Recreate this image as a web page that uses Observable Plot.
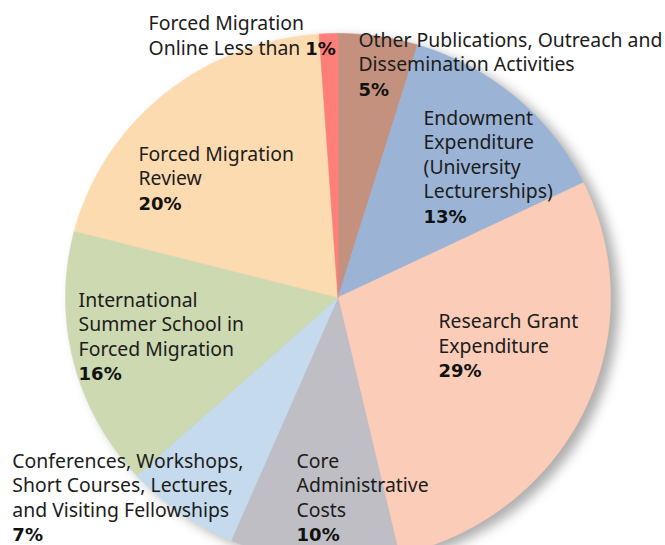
<!DOCTYPE html>
<html><head><meta charset="utf-8">
<script src="https://cdn.jsdelivr.net/npm/d3@7"></script>
<script src="https://cdn.jsdelivr.net/npm/@observablehq/plot@0.6"></script>
<style>body{margin:0;background:#fff}</style>
</head><body><div id="chart"></div>
<script>
// ---- data (clockwise from 12 o'clock) ----
const categories = [
  "Other Publications, Outreach and\nDissemination Activities",
  "Endowment\nExpenditure\n(University\nLecturerships)",
  "Research Grant\nExpenditure",
  "Core\nAdministrative\nCosts",
  "Conferences, Workshops,\nShort Courses, Lectures,\nand Visiting Fellowships",
  "International\nSummer School in\nForced Migration",
  "Forced Migration\nReview",
  "Forced Migration\nOnline Less than"
];
const values = [4.7, 13.1, 28.5, 10.0, 6.8, 15.8, 19.8, 1.1];
const pctLabels = ["5%", "13%", "29%", "10%", "7%", "16%", "20%", "1%"];

// ---- styles / layout ----
const colors = ["#c4917f", "#9bb4d6", "#fbcdb9", "#bfbec4", "#c5dbed", "#cdd9b1", "#fddbb0", "#fe7f79"];
// label anchor (left edge, baseline of the last line) in pie units
const labelX = [0.075, 0.314, 0.369, -0.152, -1.195, -0.952, -0.732, -0.695];
const labelY = [0.765, 0.284, -0.303, -0.924, -0.924, -0.314, 0.333, 0.826];

const RX = 272.5, CX = 337.5, RY = 264, CY = 297;
const fs = 19.4, lhPx = 24.5;
const font = '"Noto Sans"';

// slices
const arcs = d3.pie().sort(null).value(d => d)(values);
const pts = [];
arcs.forEach((a, i) => {
  const k = categories[i];
  pts.push({k, x: 0, y: 0});
  const n = Math.max(2, Math.ceil((a.endAngle - a.startAngle) / (Math.PI / 360)));
  for (let j = 0; j <= n; j++) {
    const t = a.startAngle + (a.endAngle - a.startAngle) * j / n;
    pts.push({k, x: Math.sin(t), y: Math.cos(t)});
  }
  pts.push({k, x: 0, y: 0});
});

// percentage positions; the last one sits inline after its text
const ctx = document.createElement("canvas").getContext("2d");
ctx.font = `${fs}px ${font}`;
const inlineW = ctx.measureText("Online Less than ").width;
const idx = d3.range(categories.length);
const pctX = idx.map(i => i === 7 ? labelX[i] + inlineW / RX : labelX[i]);
const pctY = idx.map(i => i === 7 ? labelY[i] + lhPx / RY : labelY[i]);

const plot = Plot.plot({
  width: 665, height: 545, margin: 0,
  style: {background: "#fff", overflow: "visible"},
  x: {domain: [-1, 1], range: [CX - RX, CX + RX], axis: null},
  y: {domain: [-1, 1], range: [CY + RY, CY - RY], axis: null},
  color: {domain: categories, range: colors},
  marks: [
    Plot.line(pts, {x: "x", y: "y", z: "k", fill: "k", stroke: "k", strokeWidth: 0.6, curve: "linear"}),
    Plot.text(idx, {
      x: i => labelX[i], y: i => labelY[i], text: i => categories[i],
      textAnchor: "start", lineAnchor: "bottom", dy: -lhPx,
      lineHeight: lhPx / fs, fontSize: fs, fontFamily: "Noto Sans", fill: "#1c1c1c"
    }),
    Plot.text(idx, {
      x: i => pctX[i], y: i => pctY[i], text: i => pctLabels[i],
      textAnchor: "start", lineAnchor: "bottom",
      fontSize: 18, fontWeight: "bold", fontFamily: "DejaVu Sans", fill: "#111"
    })
  ]
});
const g = plot.querySelector("g[aria-label='line']");
if (g) g.style.filter = "drop-shadow(8px 5px 6px rgba(0,0,0,0.32))";
document.getElementById("chart").appendChild(plot);
</script>
</body></html>
